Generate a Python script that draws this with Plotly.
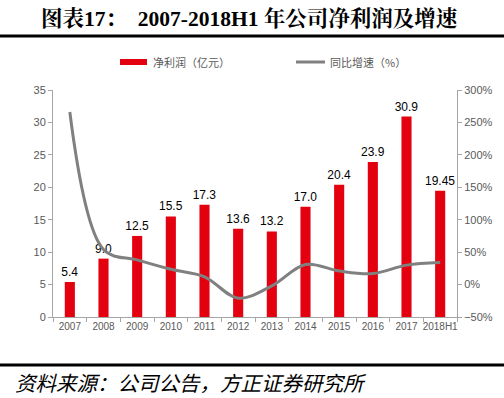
import plotly.graph_objects as go

years = ["2007", "2008", "2009", "2010", "2011", "2012", "2013", "2014", "2015", "2016", "2017", "2018H1"]
profit = [5.4, 9.0, 12.5, 15.5, 17.3, 13.6, 13.2, 17.0, 20.4, 23.9, 30.9, 19.45]
profit_labels = ["5.4", "9.0", "12.5", "15.5", "17.3", "13.6", "13.2", "17.0", "20.4", "23.9", "30.9", "19.45"]
growth = [266, 54, 38, 23.5, 12, -21, -2, 31, 21, 17, 30, 34]
series_names = ["净利润（亿元）", "同比增速（%）"]

L, R, T, B = 53, 47, 90, 81
W, H = 504, 398
PH = H - T - B
PW = W - L - R

def py(p):
    return (H - B - p) / PH

def px(p):
    return (p - L) / PW

grey = "#595959"
red = "#E3000F"
lgrey = "#808080"
fig = go.Figure()
fig.add_trace(go.Bar(
    x=years, y=profit, name=series_names[0],
    marker=dict(color=red, line=dict(width=0)),
    width=0.3,
    text=profit_labels, textposition="outside", constraintext="none",
    textfont=dict(size=12, color="black", family="Liberation Sans, Noto Sans CJK SC"),
    cliponaxis=False,
))
fig.add_trace(go.Scatter(
    x=years, y=growth, name=series_names[1], yaxis="y2",
    mode="lines", line=dict(color=lgrey, width=3, shape="spline", smoothing=1.0),
))

fig.update_layout(
    width=W, height=H,
    margin=dict(l=L, r=R, t=T, b=B, autoexpand=False),
    paper_bgcolor="white", plot_bgcolor="white",
    font=dict(family="Liberation Sans, Noto Sans CJK SC", color=grey, size=11),
    showlegend=False,
    xaxis=dict(showline=True, linecolor="#A6A6A6", linewidth=1, ticks="outside",
               tickcolor="#A6A6A6", ticklen=4, tickson="boundaries", tickangle=0,
               automargin=False,
               tickfont=dict(size=10, color=grey), showgrid=False),
    yaxis=dict(range=[0, 35], dtick=5, showline=True, linecolor="#A6A6A6", linewidth=1,
               ticks="outside", tickcolor="#A6A6A6", ticklen=4, showgrid=False,
               zeroline=False, tickfont=dict(size=11, color=grey), automargin=False),
    yaxis2=dict(range=[-50, 300], dtick=50, overlaying="y", side="right",
                ticksuffix="%", showline=True, linecolor="#A6A6A6", linewidth=1,
                ticks="outside", tickcolor="#A6A6A6", ticklen=4, showgrid=False,
                zeroline=False, tickfont=dict(size=11, color=grey), automargin=False),
    shapes=[
        dict(type="line", xref="paper", yref="paper", x0=px(0), x1=px(W), y0=py(36), y1=py(36),
             line=dict(color="black", width=3)),
        dict(type="line", xref="paper", yref="paper", x0=px(0), x1=px(W), y0=py(365), y1=py(365),
             line=dict(color="black", width=3)),
        dict(type="rect", xref="paper", yref="paper", x0=px(120), x1=px(147), y0=py(65), y1=py(59),
             fillcolor=red, line=dict(width=0)),
        dict(type="line", xref="paper", yref="paper", x0=px(296), x1=px(325), y0=py(62), y1=py(62),
             line=dict(color=lgrey, width=3)),
    ],
    annotations=[
        dict(text="<b>图表17：  2007-2018H1 年公司净利润及增速</b>", xref="paper", yref="paper",
             x=px(250), y=py(18), xanchor="center", yanchor="middle", showarrow=False,
             font=dict(size=21.5, color="black", family="Liberation Serif, Noto Serif CJK SC, Noto Sans CJK SC")),
        dict(text="<i>资料来源：公司公告，方正证券研究所</i>", xref="paper", yref="paper",
             x=px(13), y=py(382), xanchor="left", yanchor="middle", showarrow=False,
             font=dict(size=20.5, color="black", family="Noto Sans CJK SC")),
        dict(text=series_names[0], xref="paper", yref="paper", x=px(151), y=py(62),
             xanchor="left", yanchor="middle", showarrow=False,
             font=dict(size=11, color=grey, family="Noto Sans CJK SC")),
        dict(text=series_names[1], xref="paper", yref="paper", x=px(328), y=py(62),
             xanchor="left", yanchor="middle", showarrow=False,
             font=dict(size=11, color=grey, family="Noto Sans CJK SC")),
    ],
)

fig.write_html("out.html", config={"displayModeBar": False},
               post_script="document.body.style.margin='0';document.body.style.padding='0';")
